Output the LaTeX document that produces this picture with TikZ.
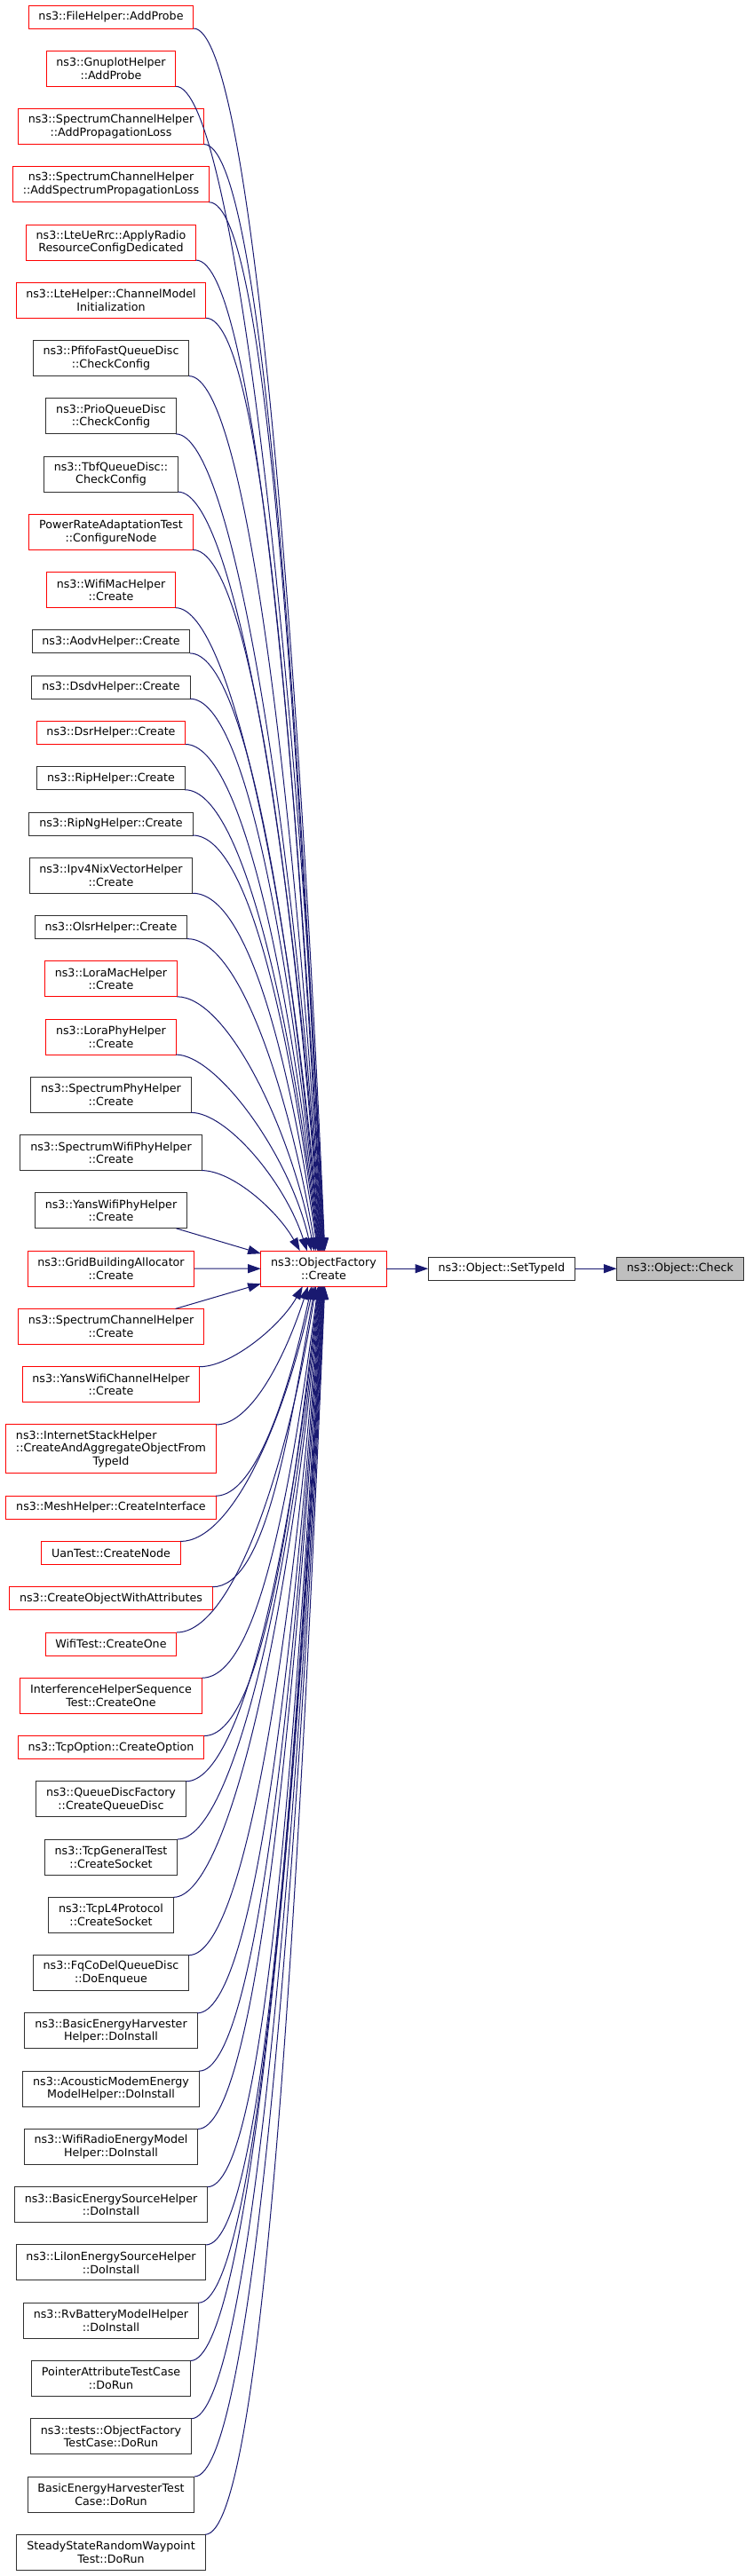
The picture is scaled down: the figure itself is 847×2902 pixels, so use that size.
\documentclass[tikz,border=0pt]{standalone}
\usepackage{fontspec}
\setmainfont{DejaVu Sans}
\definecolor{dxRed}{RGB}{255,0,0}
\definecolor{dxBlue}{RGB}{25,25,112}
\definecolor{dxGray}{RGB}{191,191,191}
\definecolor{dxBlack}{RGB}{48,48,48}
\usepackage{tikz}
\usetikzlibrary{arrows.meta,positioning,calc}

\begin{document}
\begin{tikzpicture}[
      x=0.75pt, y=-0.75pt,
      bx/.style={draw=dxBlack, line width=0.75pt, inner xsep=8.5pt, inner ysep=0pt, outer sep=0pt,
                 font=\fontsize{9.5}{11}\selectfont, align=center},
      bxr/.style={bx, draw=dxRed},
      l1/.style={minimum height=19.5pt},
      l2/.style={minimum height=30pt},
      l3/.style={minimum height=41.25pt},
      arr/.style={-{Triangle[length=11pt,width=7.5pt]}, line width=0.75pt, draw=dxBlue, fill=none},
      node distance=18.95pt
    ]
      \useasboundingbox (0,0) rectangle (847,2902);
      % Callers, top to bottom
      \node[bxr, l1] (fileprobe) at (125,19) {ns3::FileHelper::AddProbe};
      \node[bxr, l2, below=of fileprobe] (gnuprobe) {ns3::GnuplotHelper\\::AddProbe};
      \node[bxr, l2, below=of gnuprobe] (chanloss) {ns3::SpectrumChannelHelper\\::AddPropagationLoss};
      \node[bxr, l2, below=of chanloss] (chanspec) {ns3::SpectrumChannelHelper\\::AddSpectrumPropagationLoss};
      \node[bxr, l2, below=of chanspec] (lterrc) {ns3::LteUeRrc::ApplyRadio\\ResourceConfigDedicated};
      \node[bxr, l2, below=of lterrc] (ltechan) {ns3::LteHelper::ChannelModel\\Initialization};
      \node[bx, l2, below=of ltechan] (pfifo) {ns3::PfifoFastQueueDisc\\::CheckConfig};
      \node[bx, l2, below=of pfifo] (prio) {ns3::PrioQueueDisc\\::CheckConfig};
      \node[bx, l2, below=of prio] (tbf) {ns3::TbfQueueDisc::\\CheckConfig};
      \node[bxr, l2, below=of tbf] (powerrate) {PowerRateAdaptationTest\\::ConfigureNode};
      \node[bxr, l2, below=of powerrate] (wifimac) {ns3::WifiMacHelper\\::Create};
      \node[bx, l1, below=of wifimac] (aodv) {ns3::AodvHelper::Create};
      \node[bx, l1, below=of aodv] (dsdv) {ns3::DsdvHelper::Create};
      \node[bxr, l1, below=of dsdv] (dsr) {ns3::DsrHelper::Create};
      \node[bx, l1, below=of dsr] (rip) {ns3::RipHelper::Create};
      \node[bx, l1, below=of rip] (ripng) {ns3::RipNgHelper::Create};
      \node[bx, l2, below=of ripng] (nixvec) {ns3::Ipv4NixVectorHelper\\::Create};
      \node[bx, l1, below=of nixvec] (olsr) {ns3::OlsrHelper::Create};
      \node[bxr, l2, below=of olsr] (loramac) {ns3::LoraMacHelper\\::Create};
      \node[bxr, l2, below=of loramac] (loraphy) {ns3::LoraPhyHelper\\::Create};
      \node[bx, l2, below=of loraphy] (spectphy) {ns3::SpectrumPhyHelper\\::Create};
      \node[bx, l2, below=of spectphy] (spectwifi) {ns3::SpectrumWifiPhyHelper\\::Create};
      \node[bx, l2, below=of spectwifi] (yansphy) {ns3::YansWifiPhyHelper\\::Create};
      \node[bxr, l2, below=of yansphy] (gridbld) {ns3::GridBuildingAllocator\\::Create};
      \node[bxr, l2, below=of gridbld] (spectchan) {ns3::SpectrumChannelHelper\\::Create};
      \node[bxr, l2, below=of spectchan] (yanschan) {ns3::YansWifiChannelHelper\\::Create};
      \node[bxr, l3, align=left, below=of yanschan] (inetstack)
        {ns3::InternetStackHelper\\::CreateAndAggregateObjectFrom\\\hspace*{\fill}TypeId\hspace*{\fill}};
      \node[bxr, l1, below=of inetstack] (mesh) {ns3::MeshHelper::CreateInterface};
      \node[bxr, l1, below=of mesh] (uannode) {UanTest::CreateNode};
      \node[bxr, l1, below=of uannode] (objattr) {ns3::CreateObjectWithAttributes};
      \node[bxr, l1, below=of objattr] (wifione) {WifiTest::CreateOne};
      \node[bxr, l2, below=of wifione] (interf) {InterferenceHelperSequence\\Test::CreateOne};
      \node[bxr, l1, below=of interf] (tcpopt) {ns3::TcpOption::CreateOption};
      \node[bx, l2, below=of tcpopt] (qdfactory) {ns3::QueueDiscFactory\\::CreateQueueDisc};
      \node[bx, l2, below=of qdfactory] (tcpgen) {ns3::TcpGeneralTest\\::CreateSocket};
      \node[bx, l2, below=of tcpgen] (tcpl4) {ns3::TcpL4Protocol\\::CreateSocket};
      \node[bx, l2, below=of tcpl4] (fqcodel) {ns3::FqCoDelQueueDisc\\::DoEnqueue};
      \node[bx, l2, below=of fqcodel] (harvhelper) {ns3::BasicEnergyHarvester\\Helper::DoInstall};
      \node[bx, l2, below=of harvhelper] (acoustic) {ns3::AcousticModemEnergy\\ModelHelper::DoInstall};
      \node[bx, l2, below=of acoustic] (wifiradio) {ns3::WifiRadioEnergyModel\\Helper::DoInstall};
      \node[bx, l2, below=of wifiradio] (basicsrc) {ns3::BasicEnergySourceHelper\\::DoInstall};
      \node[bx, l2, below=of basicsrc] (liion) {ns3::LiIonEnergySourceHelper\\::DoInstall};
      \node[bx, l2, below=of liion] (rvbatt) {ns3::RvBatteryModelHelper\\::DoInstall};
      \node[bx, l2, below=of rvbatt] (ptrattr) {PointerAttributeTestCase\\::DoRun};
      \node[bx, l2, below=of ptrattr] (oftest) {ns3::tests::ObjectFactory\\TestCase::DoRun};
      \node[bx, l2, below=of oftest] (harvtest) {BasicEnergyHarvesterTest\\Case::DoRun};
      \node[bx, l2, below=of harvtest] (steadyrwp) {SteadyStateRandomWaypoint\\Test::DoRun};
      % Callees
      \node[bxr, l2] (create) at (364.5,1429.2) {ns3::ObjectFactory\\::Create};
      \node[bx, l1, right=35.25pt of create] (settype) {ns3::Object::SetTypeId};
      \node[bx, l1, fill=dxGray, right=35.25pt of settype] (check) {ns3::Object::Check};
      % Edges from the callers above
      \draw[arr] (fileprobe.south east) .. controls +(65,0) and +(-30,-688) .. ($(create.north west)+(72,0)$);
      \draw[arr] (gnuprobe.south east) .. controls +(65,0) and +(-30,-656) .. ($(create.north west)+(71.5,0)$);
      \draw[arr] (chanloss.south east) .. controls +(65,0) and +(-30,-623) .. ($(create.north west)+(71,0)$);
      \draw[arr] (chanspec.south east) .. controls +(65,0) and +(-30,-590) .. ($(create.north west)+(70.5,0)$);
      \draw[arr] (lterrc.south east) .. controls +(65,0) and +(-30,-558) .. ($(create.north west)+(70,0)$);
      \draw[arr] (ltechan.south east) .. controls +(65,0) and +(-30,-525) .. ($(create.north west)+(69.5,0)$);
      \draw[arr] (pfifo.south east) .. controls +(65,0) and +(-30,-493) .. ($(create.north west)+(69,0)$);
      \draw[arr] (prio.south east) .. controls +(65,0) and +(-30,-460) .. ($(create.north west)+(68.5,0)$);
      \draw[arr] (tbf.south east) .. controls +(65,0) and +(-30,-427) .. ($(create.north west)+(68,0)$);
      \draw[arr] (powerrate.south east) .. controls +(65,0) and +(-30,-395) .. ($(create.north west)+(67.5,0)$);
      \draw[arr] (wifimac.south east) .. controls +(65,0) and +(-30,-362) .. ($(create.north west)+(67,0)$);
      \draw[arr] (aodv.south east) .. controls +(65,0) and +(-30,-336) .. ($(create.north west)+(66.5,0)$);
      \draw[arr] (dsdv.south east) .. controls +(65,0) and +(-30,-311) .. ($(create.north west)+(66,0)$);
      \draw[arr] (dsr.south east) .. controls +(65,0) and +(-30,-285) .. ($(create.north west)+(65.5,0)$);
      \draw[arr] (rip.south east) .. controls +(65,0) and +(-30,-260) .. ($(create.north west)+(65,0)$);
      \draw[arr] (ripng.south east) .. controls +(65,0) and +(-30,-234) .. ($(create.north west)+(64.5,0)$);
      \draw[arr] (nixvec.south east) .. controls +(65,0) and +(-30,-201) .. ($(create.north west)+(64,0)$);
      \draw[arr] (olsr.south east) .. controls +(60,0) and +(-30,-176) .. ($(create.north west)+(62,0)$);
      \draw[arr] (loramac.south east) .. controls +(55,0) and +(-28,-143) .. ($(create.north west)+(60,0)$);
      \draw[arr] (loraphy.south east) .. controls +(45,0) and +(-25,-110) .. ($(create.north west)+(57,0)$);
      \draw[arr] (spectphy.south east) .. controls +(40,0) and +(-25,-78) .. ($(create.north west)+(52,0)$);
      \draw[arr] (spectwifi.south east) .. controls +(35,0) and +(-25,-45) .. ($(create.north west)+(44,0)$);
      \draw[arr] ([xshift=-9pt]yansphy.south east) -- ($(create.north west)+(0,3)$);
      \draw[arr] (gridbld.east) -- (create.west);
      % Edges from the callers below
      \draw[arr] ([xshift=-24pt]spectchan.north east) -- ($(create.south west)+(0,-3)$);
      \draw[arr] (yanschan.north east) .. controls +(35,0) and +(-25,45) .. ($(create.south west)+(47,0)$);
      \draw[arr] (inetstack.north east) .. controls +(40,0) and +(-25,78) .. ($(create.south west)+(53,0)$);
      \draw[arr] (mesh.north east) .. controls +(45,0) and +(-25,118) .. ($(create.south west)+(57,0)$);
      \draw[arr] (uannode.north east) .. controls +(60,0) and +(-30,144) .. ($(create.south west)+(59,0)$);
      \draw[arr] (objattr.north east) .. controls +(60,0) and +(-30,169) .. ($(create.south west)+(61,0)$);
      \draw[arr] (wifione.north east) .. controls +(65,0) and +(-30,195) .. ($(create.south west)+(62,0)$);
      \draw[arr] (interf.north east) .. controls +(65,0) and +(-30,221) .. ($(create.south west)+(64.5,0)$);
      \draw[arr] (tcpopt.north east) .. controls +(65,0) and +(-30,253) .. ($(create.south west)+(65,0)$);
      \draw[arr] (qdfactory.north east) .. controls +(65,0) and +(-30,279) .. ($(create.south west)+(65.5,0)$);
      \draw[arr] (tcpgen.north east) .. controls +(65,0) and +(-30,312) .. ($(create.south west)+(66,0)$);
      \draw[arr] (tcpl4.north east) .. controls +(65,0) and +(-30,344) .. ($(create.south west)+(66.5,0)$);
      \draw[arr] (fqcodel.north east) .. controls +(65,0) and +(-30,377) .. ($(create.south west)+(67,0)$);
      \draw[arr] (harvhelper.north east) .. controls +(65,0) and +(-30,410) .. ($(create.south west)+(67.5,0)$);
      \draw[arr] (acoustic.north east) .. controls +(65,0) and +(-30,442) .. ($(create.south west)+(68,0)$);
      \draw[arr] (wifiradio.north east) .. controls +(65,0) and +(-30,475) .. ($(create.south west)+(68.5,0)$);
      \draw[arr] (basicsrc.north east) .. controls +(65,0) and +(-30,507) .. ($(create.south west)+(69,0)$);
      \draw[arr] (liion.north east) .. controls +(65,0) and +(-30,540) .. ($(create.south west)+(69.5,0)$);
      \draw[arr] (rvbatt.north east) .. controls +(65,0) and +(-30,573) .. ($(create.south west)+(70,0)$);
      \draw[arr] (ptrattr.north east) .. controls +(65,0) and +(-30,605) .. ($(create.south west)+(70.5,0)$);
      \draw[arr] (oftest.north east) .. controls +(65,0) and +(-30,638) .. ($(create.south west)+(71,0)$);
      \draw[arr] (harvtest.north east) .. controls +(65,0) and +(-30,671) .. ($(create.south west)+(71.5,0)$);
      \draw[arr] (steadyrwp.north east) .. controls +(65,0) and +(-30,703) .. ($(create.south west)+(72,0)$);
      % Chain to the checked method
      \draw[arr] (create) -- (settype);
      \draw[arr] (settype) -- (check);
    \end{tikzpicture}
\end{document}
